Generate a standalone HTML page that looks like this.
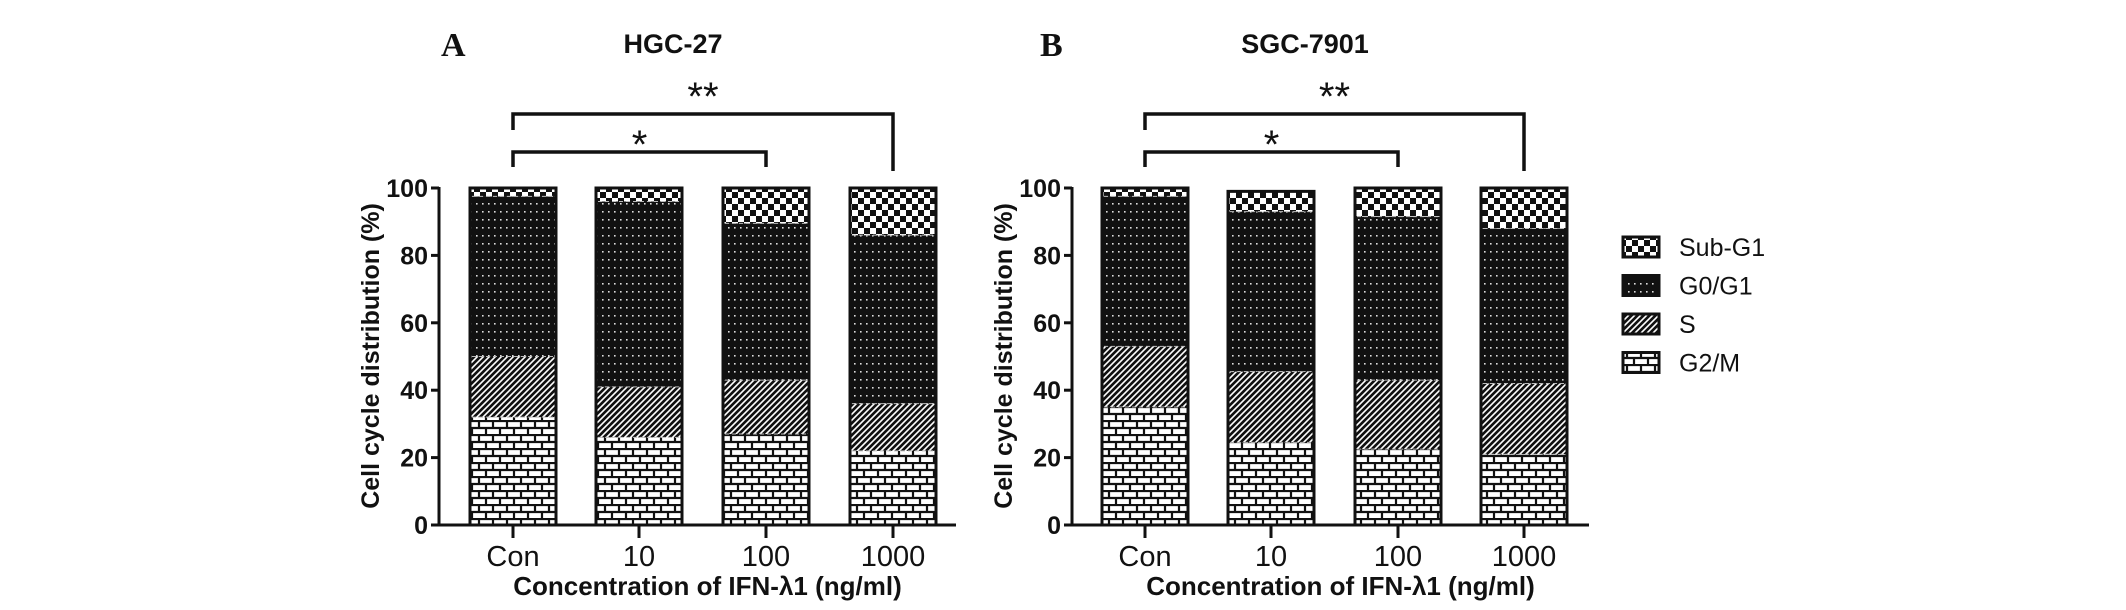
<!DOCTYPE html>
<html><head><meta charset="utf-8">
<style>
body{margin:0;background:#fff;}
svg{display:block;}
text{font-family:"Liberation Sans",sans-serif;fill:#111;}
</style></head>
<body>
<svg id="chart" width="2126" height="610" viewBox="0 0 2126 610">
<defs>
<pattern id="pBrick" patternUnits="userSpaceOnUse" width="14" height="14">
<rect width="14" height="14" fill="#fff"/>
<path d="M0 1H14M0 8H14M3 1V8M10 8V14" stroke="#111" stroke-width="2.2" fill="none"/>
</pattern>
<pattern id="pHatch" patternUnits="userSpaceOnUse" width="6" height="6">
<rect width="6" height="6" fill="#111"/>
<path d="M-1 7L7 -1M-4 4L4 -4M2 10L10 2" stroke="#fff" stroke-width="1.6"/>
</pattern>
<pattern id="pDots" patternUnits="userSpaceOnUse" width="6" height="8">
<rect width="6" height="8" fill="#111"/>
<rect x="2" y="3" width="1.6" height="1.6" fill="#ddd"/>
</pattern>
<pattern id="pCheck" patternUnits="userSpaceOnUse" width="12" height="12">
<rect width="12" height="12" fill="#fff"/>
<rect width="6" height="6" fill="#111"/><rect x="6" y="6" width="6" height="6" fill="#111"/>
</pattern>
</defs>
</svg>
<script>
const categories=["Con","10","100","1000"];
const yTicks=[0,20,40,60,80,100];
const phases=["G2/M","S","G0/G1","Sub-G1"];
const hgcG2M=[32,26,27,22];
const hgcS=[18,15,16,14];
const hgcG0G1=[47.5,55,46.5,50];
const hgcSubG1=[2.5,4,10.5,14];
const sgcG2M=[35,24.5,22.5,21];
const sgcS=[18,21,20.5,21];
const sgcG0G1=[44.5,47.5,48.5,46];
const sgcSubG1=[2.5,6,8.5,12];

const NS="http://www.w3.org/2000/svg";
const svg=document.getElementById('chart');
const fills=["url(#pBrick)","url(#pHatch)","url(#pDots)","url(#pCheck)"];
function mk(tag,attrs,parent,txt){const e=document.createElementNS(NS,tag);for(const k in attrs)e.setAttribute(k,attrs[k]);if(txt!==undefined)e.textContent=txt;(parent||svg).appendChild(e);return e;}

function panel(cfg){
  const g=mk('g',{});
  
  
  const y0=525,y1=188;
  const ys=v=>y0-(v/100)*(y0-y1);
  const xs=i=>cfg.barX[i];
  const bw=cfg.bw;
  categories.forEach((c,i)=>{
    let acc=0;
    cfg.series.forEach((arr,k)=>{
      const v=arr[i];
      const r=mk('rect',{x:xs(i),y:ys(acc+v),width:bw,height:ys(acc)-ys(acc+v),fill:fills[k]},g);
      
      
      acc+=v;
    });
    const o=mk('rect',{x:xs(i),y:ys(acc),width:bw,height:ys(0)-ys(acc),fill:'none',stroke:'#111','stroke-width':3},g);
    
    
    let a2=0;
    cfg.series.forEach((arr,k)=>{a2+=arr[i]; if(k<3){mk('line',{x1:xs(i)+2,x2:xs(i)+bw-2,y1:ys(a2),y2:ys(a2),stroke:'#bbb','stroke-width':1,'stroke-dasharray':'4 3'},g);}});
    const cx=xs(i)+bw/2;
    mk('line',{x1:cx,x2:cx,y1:y0,y2:538,stroke:'#111','stroke-width':3},g);
    const t=mk('text',{x:cx,y:566,'text-anchor':'middle','font-size':29,fill:'#333'},g,c);
    
    
  });
  const ax=cfg.axisX;
  const ya=mk('line',{x1:ax,x2:ax,y1:y1-1,y2:y0+1.5,stroke:'#111','stroke-width':3},g);
  
  
  const xa=mk('line',{x1:ax-8,x2:cfg.axisEnd,y1:y0,y2:y0,stroke:'#111','stroke-width':3},g);
  
  
  yTicks.forEach(v=>{
    mk('line',{x1:ax-8,x2:ax,y1:ys(v),y2:ys(v),stroke:'#111','stroke-width':3},g);
    const t=mk('text',{x:ax-11,y:ys(v)+9,'text-anchor':'end','font-size':25,'font-weight':'bold',fill:'#222'},g,String(v));
    
    
  });
  const yt=mk('text',{x:0,y:0,'text-anchor':'middle','font-size':25,'font-weight':'bold',transform:`translate(${ax-60},356) rotate(-90)`},g,'Cell cycle distribution (%)');
  
  
  const xt=mk('text',{x:(ax+cfg.axisEnd)/2+10,y:595,'text-anchor':'middle','font-size':26,'font-weight':'bold'},g,'Concentration of IFN-λ1 (ng/ml)');
  
  
  const tt=mk('text',{x:cfg.titleX,y:53,'text-anchor':'middle','font-size':27,'font-weight':'bold'},g,cfg.title);
  
  
  const pl=mk('text',{x:cfg.letterX,y:56,'font-size':34,'font-weight':'bold',style:'font-family:"Liberation Serif",serif'},g,cfg.letter);
  
  
  const c0=xs(0)+bw/2,c2=xs(2)+bw/2,c3=xs(3)+bw/2;
  const b1=mk('path',{d:`M${c0} 130V114H${c3}V171`,fill:'none',stroke:'#111','stroke-width':3.5},g);
  
  
  const b2=mk('path',{d:`M${c0} 167V152H${c2}V167`,fill:'none',stroke:'#111','stroke-width':3.5},g);
  
  
  const s1=mk('text',{x:(c0+c3)/2,y:110,'text-anchor':'middle','font-size':40},g,'**');
  
  
  const s2=mk('text',{x:(c0+c2)/2,y:158,'text-anchor':'middle','font-size':40},g,'*');
  
  
}
panel({id:'hgc',name:'panel-a-hgc27',title:'HGC-27',letter:'A',letterX:441,titleX:673,axisX:439,axisEnd:956,barX:[470,596,723,850],bw:86,series:[hgcG2M,hgcS,hgcG0G1,hgcSubG1]});
panel({id:'sgc',name:'panel-b-sgc7901',title:'SGC-7901',letter:'B',letterX:1040,titleX:1305,axisX:1072,axisEnd:1589,barX:[1102,1228,1355,1481],bw:86,series:[sgcG2M,sgcS,sgcG0G1,sgcSubG1]});

const leg=mk('g',{});


const legOrder=[3,2,1,0];
legOrder.forEach((k,j)=>{
  const y=237+j*38.5;
  const r=mk('rect',{x:1623,y:y,width:36,height:20,fill:fills[k],stroke:'#111','stroke-width':3},leg);
  
  
  const t=mk('text',{x:1679,y:y+19,'font-size':25,fill:'#222'},leg,phases[k]);
  
  
});
</script>
</body></html>
